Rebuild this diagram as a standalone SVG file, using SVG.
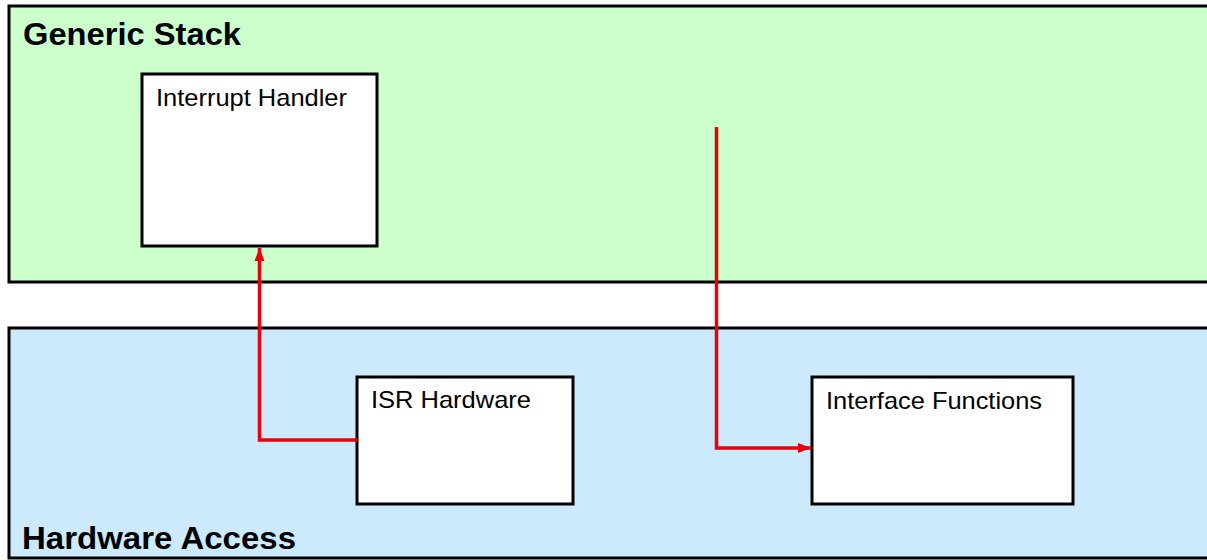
<svg xmlns="http://www.w3.org/2000/svg" width="1207" height="560" viewBox="0 0 1207 560">
<style>
.band{stroke:#000;stroke-width:3}
.box{fill:#fff;stroke:#000;stroke-width:3}
.title{font-family:"Liberation Sans",Arial,sans-serif;font-weight:bold;font-size:32px;fill:#000}
.lbl{font-family:"Liberation Sans",Arial,sans-serif;font-size:24px;fill:#000}
.conn{fill:none;stroke:#e8000b;stroke-width:3.5}
</style>
<defs>
<marker id="ah" markerWidth="14" markerHeight="12" refX="13" refY="6" orient="auto" markerUnits="userSpaceOnUse">
<path d="M0,1 L13,6 L0,11 Z" fill="#e8000b"/>
</marker>
</defs>
<rect width="1207" height="560" fill="#fff"/>
<g id="generic-stack">
<rect class="band" x="9" y="6" width="1210" height="276" fill="#ccffcc"/>
<text class="title" x="23" y="45" textLength="218" lengthAdjust="spacingAndGlyphs">Generic Stack</text>
</g>
<g id="hardware-access">
<rect class="band" x="9" y="328" width="1210" height="230" fill="#cceafc"/>
<text class="title" x="22" y="549" textLength="274" lengthAdjust="spacingAndGlyphs">Hardware Access</text>
</g>
<g id="interrupt-handler">
<rect class="box" x="142" y="74" width="235" height="172"/>
<text class="lbl" x="156" y="106" textLength="191" lengthAdjust="spacingAndGlyphs">Interrupt Handler</text>
</g>
<g id="isr-hardware">
<rect class="box" x="357" y="377" width="216" height="127"/>
<text class="lbl" x="371" y="408" textLength="160" lengthAdjust="spacingAndGlyphs">ISR Hardware</text>
</g>
<g id="interface-functions">
<rect class="box" x="812" y="377" width="261" height="127"/>
<text class="lbl" x="826" y="409" textLength="216" lengthAdjust="spacingAndGlyphs">Interface Functions</text>
</g>
<g id="connectors">
<path class="conn" d="M357,440 L259.5,440 L259.5,248" marker-end="url(#ah)"/>
<path class="conn" d="M716.5,127 L716.5,448 L811,448" marker-end="url(#ah)"/>
</g>
</svg>
